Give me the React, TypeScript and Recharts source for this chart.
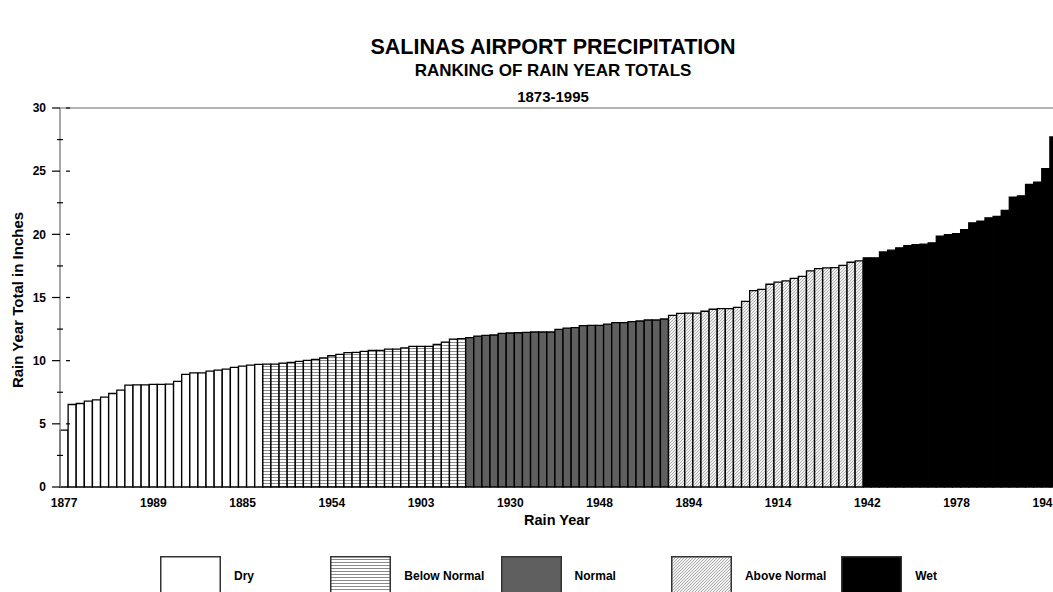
import { BarChart, Bar, XAxis, YAxis, Cell, ReferenceLine } from 'recharts'

// rain-year totals (inches), ranked driest → wettest, split by class
const dryTotals = [4.5, 6.53, 6.61, 6.8, 6.9, 7.11, 7.4, 7.67, 8.06, 8.09, 8.09, 8.12, 8.12, 8.14, 8.36, 8.91, 9.04, 9.04, 9.17, 9.25, 9.33, 9.47, 9.57, 9.65, 9.7]
const belowNormalTotals = [9.73, 9.73, 9.81, 9.86, 9.94, 10.02, 10.1, 10.21, 10.39, 10.5, 10.63, 10.66, 10.74, 10.82, 10.82, 10.92, 10.92, 11.02, 11.13, 11.13, 11.13, 11.29, 11.47, 11.71, 11.74]
const normalTotals = [11.82, 11.95, 12.0, 12.03, 12.16, 12.19, 12.21, 12.24, 12.27, 12.27, 12.27, 12.48, 12.58, 12.61, 12.77, 12.8, 12.8, 12.9, 13.01, 13.01, 13.09, 13.14, 13.22, 13.22, 13.3]
const aboveNormalTotals = [13.59, 13.75, 13.77, 13.77, 13.91, 14.07, 14.12, 14.12, 14.22, 14.7, 15.54, 15.65, 16.05, 16.21, 16.31, 16.52, 16.68, 17.1, 17.29, 17.34, 17.37, 17.55, 17.79, 17.9]
const wetTotals = [18.14, 18.14, 18.61, 18.75, 18.93, 19.11, 19.19, 19.22, 19.33, 19.86, 19.98, 20.06, 20.38, 20.91, 21.05, 21.31, 21.41, 21.89, 22.95, 23.05, 23.95, 24.14, 25.19, 27.71]

// year label shown under every 11th ranked bar
const yearLabels = ['1877', '1989', '1885', '1954', '1903', '1930', '1948', '1894', '1914', '1942', '1978', '1941']
const labelEvery = 11

const classNames = ['Dry', 'Below Normal', 'Normal', 'Above Normal', 'Wet']
const classTotals = [dryTotals, belowNormalTotals, normalTotals, aboveNormalTotals, wetTotals]
const classFills = ['#ffffff', 'url(#hlines)', '#5f5f5f', 'url(#hatch)', '#000000']

const yTicks = [0, 2.5, 5, 7.5, 10, 12.5, 15, 17.5, 20, 22.5, 25, 27.5, 30]

const data = classTotals.flatMap((arr, c) => arr.map(total => ({ total, cls: c })))
  .map((d, i) => ({ ...d, rank: i }))
const edgeTicks = Array.from({ length: data.length + 1 }, (_, i) => i)

const FONT = '"Liberation Sans", Arial, sans-serif'

function YTick({ x, y, payload }: any) {
  const v = payload.value
  if (v % 5 !== 0) {
    return <line x1={x - 3} x2={x + 3} y1={y} y2={y} stroke="#000" strokeWidth={1.2} />
  }
  return (
    <g>
      <line x1={x - 8} x2={x} y1={y} y2={y} stroke="#000" strokeWidth={1.2} />
      {v > 0 && <line x1={x + 6} x2={x + 10} y1={y} y2={y} stroke="#000" strokeWidth={1.2} />}
      <text x={x - 14} y={y} dy="0.35em" textAnchor="end" fontSize={12} fontWeight="bold" fontFamily={FONT} fill="#000">{v}</text>
    </g>
  )
}

function PatternDefs() {
  return (
    <defs>
      <pattern id="hlines" patternUnits="userSpaceOnUse" width="4" height="3">
        <rect width="4" height="3" fill="#fff" />
        <line x1="0" x2="4" y1="0.5" y2="0.5" stroke="#8a8a8a" strokeWidth="1" />
      </pattern>
      <pattern id="hatch" patternUnits="userSpaceOnUse" width="3" height="3">
        <rect width="3" height="3" fill="#f2f2f2" />
        <path d="M0,3 L3,0 M-1,1 L1,-1 M2,4 L4,2" stroke="#9a9a9a" strokeWidth="0.8" />
      </pattern>
    </defs>
  )
}

function RainLegend() {
  return (
    <div style={{ position: 'absolute', left: 0, top: 556, width: 1053, height: 40 }}>
      {classNames.map((name, i) => (
        <div key={name} style={{ position: 'absolute', left: 160 + i * 170.3, top: 0 }}>
          <svg width={61} height={40} style={{ position: 'absolute', left: 0, top: 0 }}>
            <PatternDefs />
            <rect x={0.75} y={0.75} width={59.5} height={40} fill={classFills[i]} stroke="#333" strokeWidth={1.5} />
          </svg>
          <span style={{
            position: 'absolute', left: 74, top: 13, whiteSpace: 'nowrap',
            fontSize: 12, fontWeight: 'bold', fontFamily: FONT, color: '#000',
          }}>{name}</span>
        </div>
      ))}
    </div>
  )
}

export default function App() {
  return (
    <div style={{ position: 'fixed', left: 0, top: 0, width: 1053, height: 592, overflow: 'hidden', background: '#fff', fontFamily: FONT }}>
      <div style={{ position: 'absolute', left: 0, width: 1106, top: 35, textAlign: 'center', fontSize: 21.5, fontWeight: 'bold', lineHeight: '24px' }}>
        SALINAS AIRPORT PRECIPITATION
      </div>
      <div style={{ position: 'absolute', left: 0, width: 1106, top: 61, textAlign: 'center', fontSize: 17, fontWeight: 'bold', lineHeight: '20px' }}>
        RANKING OF RAIN YEAR TOTALS
      </div>
      <div style={{ position: 'absolute', left: 0, width: 1106, top: 88, textAlign: 'center', fontSize: 15, fontWeight: 'bold', lineHeight: '18px' }}>
        1873-1995
      </div>

      <BarChart width={1068} height={592} data={data} barCategoryGap={0}
        margin={{ top: 108, right: 10, bottom: 75, left: 10 }}>
        <PatternDefs />
        <XAxis xAxisId="edge" type="number" dataKey="rank" domain={[0, data.length]} ticks={edgeTicks}
          height={0} interval={0} tickSize={5} tickLine={{ stroke: '#000', strokeWidth: 1.2 }}
          axisLine={{ stroke: '#555', strokeWidth: 1.5 }} tick={false} />
        <XAxis dataKey="rank" height={30} interval={labelEvery - 1} tickSize={0} tickMargin={11}
          axisLine={false} tickLine={false}
          tickFormatter={(r: number) => yearLabels[Math.floor(r / labelEvery)] ?? ''}
          tick={{ fontSize: 12, fontWeight: 'bold', fill: '#000', fontFamily: FONT }} />
        <YAxis width={50} domain={[0, 30]} ticks={yTicks} interval={0} tickSize={0} tickMargin={0}
          tickLine={false} axisLine={{ stroke: '#8a8a8a', strokeWidth: 1.5 }} tick={<YTick />} />
        <ReferenceLine y={30} stroke="#9a9a9a" strokeWidth={1.5} />
        <Bar dataKey="total" stroke="#000" strokeWidth={1.3} isAnimationActive={false}>
          {data.map(d => <Cell key={d.rank} fill={classFills[d.cls]} />)}
        </Bar>
      </BarChart>

      <div style={{
        position: 'absolute', left: 18 - 110, top: 300 - 9, width: 220, height: 18, lineHeight: '18px',
        textAlign: 'center', transform: 'rotate(-90deg)', fontSize: 15, fontWeight: 'bold',
      }}>Rain Year Total in Inches</div>
      <div style={{ position: 'absolute', left: 457, width: 200, top: 512, textAlign: 'center', fontSize: 14.5, fontWeight: 'bold', lineHeight: '17px' }}>
        Rain Year
      </div>

      <RainLegend />
    </div>
  )
}
